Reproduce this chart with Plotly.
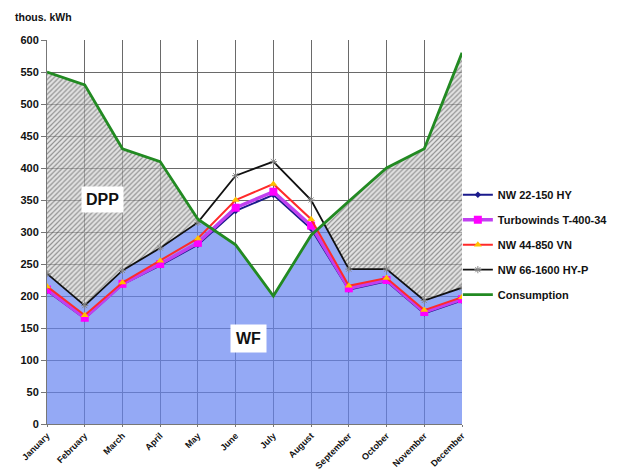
import numpy as np
import plotly.graph_objects as go

months = ["January", "February", "March", "April", "May", "June", "July",
          "August", "September", "October", "November", "December"]
nw22 = [208, 165, 218, 248, 280, 333, 358, 305, 210, 223, 173, 193]
turbo = [210, 166, 219, 250, 283, 338, 363, 310, 212, 225, 175, 195]
nw44 = [215, 170, 221, 255, 290, 350, 375, 320, 216, 228, 178, 198]
nw66 = [235, 185, 240, 275, 315, 388, 410, 350, 242, 242, 193, 213]
consumption = [550, 530, 430, 410, 320, 280, 200, 295, 348, 400, 430, 580]

FONT = "Arial, Liberation Sans, sans-serif"
x = np.arange(len(months), dtype=float)
b = np.array(nw66, dtype=float)
c = np.array(consumption, dtype=float)

# merge x with crossing points of consumption and the largest wind series
xs = []
for i in range(len(x) - 1):
    xs.append(x[i])
    d0, d1 = c[i] - b[i], c[i + 1] - b[i + 1]
    if d0 * d1 < 0:
        xs.append(x[i] + d0 / (d0 - d1))
xs.append(x[-1])
xs = np.array(xs)
bi = np.interp(xs, x, b)
ci = np.interp(xs, x, c)
lower = np.minimum(bi, ci)
upper = np.maximum(bi, ci)

fig = go.Figure()
# WF area
fig.add_trace(go.Scatter(x=xs, y=lower, mode="lines", line=dict(width=0),
                         fill="tozeroy", fillcolor="rgba(102,132,241,0.7)",
                         showlegend=False, hoverinfo="skip"))
# DPP area (hatched)
fig.add_trace(go.Scatter(x=xs, y=bi, mode="lines", line=dict(width=0),
                         showlegend=False, hoverinfo="skip"))
fig.add_trace(go.Scatter(x=xs, y=upper, mode="lines", line=dict(width=0),
                         fill="tonexty", fillcolor="rgba(200,200,200,0.5)",
                         fillpattern=dict(shape="/", fgcolor="#3a3a3a",
                                          bgcolor="rgba(210,210,210,0.6)",
                                          size=3.5, solidity=0.35),
                         showlegend=False, hoverinfo="skip"))

fig.add_trace(go.Scatter(x=x, y=nw22, name="NW 22-150 HY", mode="lines+markers",
                         line=dict(color="#1a1a8c", width=2),
                         marker=dict(symbol="diamond", size=5, color="#1a1a8c"),
                         legendgroup="a"))
fig.add_trace(go.Scatter(x=x, y=turbo, name="Turbowinds T-400-34", mode="lines+markers",
                         line=dict(color="#c040f0", width=3.5),
                         marker=dict(symbol="square", size=8, color="#ff00ff"),
                         legendgroup="b"))
fig.add_trace(go.Scatter(x=x, y=nw44, name="NW 44-850 VN", mode="lines+markers",
                         line=dict(color="#ff2a2a", width=2),
                         marker=dict(symbol="triangle-up", size=7, color="#ffc000"),
                         legendgroup="c"))
fig.add_trace(go.Scatter(x=x, y=nw66, name="NW 66-1600 HY-P", mode="lines+markers",
                         line=dict(color="#111111", width=1.8),
                         marker=dict(symbol="asterisk", size=6, color="#888888",
                                     line=dict(width=1, color="#888888")),
                         legendgroup="d"))
fig.add_trace(go.Scatter(x=x, y=consumption, name="Consumption", mode="lines",
                         line=dict(color="#228a22", width=2.8),
                         legendgroup="e"))

fig.add_annotation(x=1.47, y=351, xref="x", yref="y", text="DPP", showarrow=False,
                   font=dict(family=FONT, size=16, color="#111", weight="bold"),
                   bgcolor="white", borderpad=4)
fig.add_annotation(x=5.34, y=134, xref="x", yref="y", text="WF", showarrow=False,
                   font=dict(family=FONT, size=16, color="#111", weight="bold"),
                   bgcolor="white", borderpad=5)
fig.add_annotation(x=-0.082, y=1.06, xref="paper", yref="paper", text="thous. kWh",
                   showarrow=False, xanchor="left", yanchor="middle",
                   font=dict(family=FONT, size=10.5, color="#111", weight="bold"))

fig.update_xaxes(range=[0, 11], tickmode="array", tickvals=x, ticktext=months,
                 tickangle=-45, showgrid=True, gridcolor="#6a6a6a", gridwidth=1,
                 showline=True, linecolor="#777", zeroline=False, automargin=False,
                 ticks="outside", ticklen=2, tickcolor="#777",
                 tickfont=dict(family=FONT, size=9, color="#111", weight="bold"))
fig.update_yaxes(range=[0, 600], dtick=50, showgrid=True, gridcolor="#6a6a6a",
                 gridwidth=1, showline=True, linecolor="#777", zeroline=False,
                 automargin=False,
                 ticks="outside", ticklen=5, tickcolor="#777",
                 tickfont=dict(family=FONT, size=11, color="#111", weight="bold"))

fig.update_layout(
    width=626, height=472,
    margin=dict(l=47, r=164, t=40, b=48, autoexpand=False),
    paper_bgcolor="white", plot_bgcolor="white",
    legend=dict(x=0.99, y=0.635, xanchor="left", yanchor="top",
                tracegroupgap=6, bgcolor="rgba(0,0,0,0)",
                font=dict(family=FONT, size=11, color="#111", weight="bold")),
    font=dict(family=FONT),
)

fig.write_html("out.html", config={"displayModeBar": False},
               post_script="document.body.style.margin='0';document.body.style.overflow='hidden';")
